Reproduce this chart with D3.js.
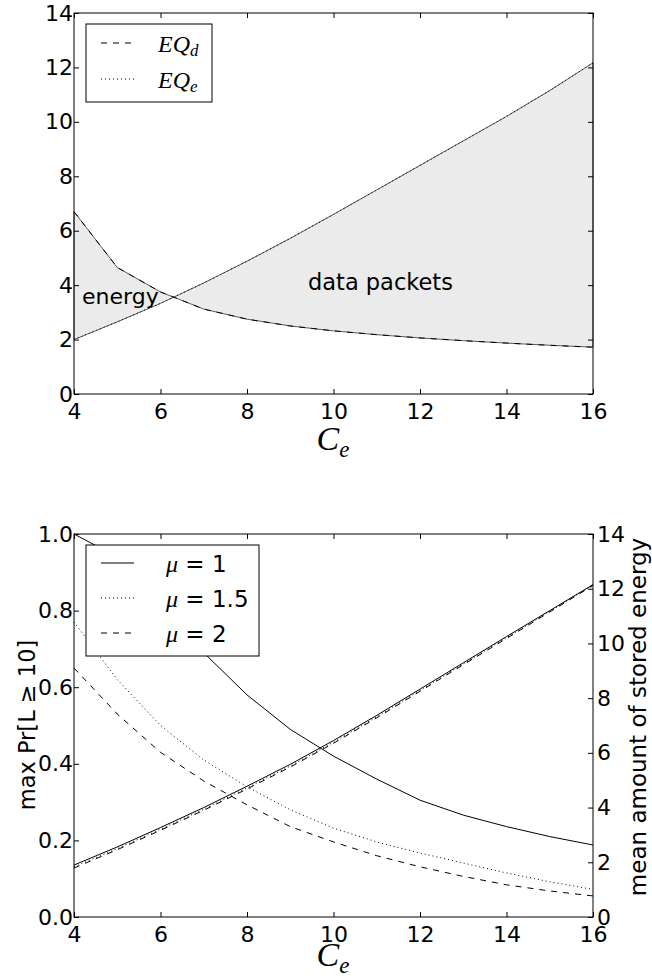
<!DOCTYPE html>
<html>
<head>
<meta charset="utf-8">
<script src="https://cdn.jsdelivr.net/npm/d3@7"></script>
<style>
  body { margin: 0; background: #fff; }
  text { font-family: "DejaVu Sans", sans-serif; fill: #000; }
  .math { font-family: "Liberation Serif", serif; font-style: italic; }
</style>
</head>
<body>
<div class="chart"></div>
<script>
// data
const ce = [4, 5, 6, 7, 8, 9, 10, 11, 12, 13, 14, 15, 16];
const eqD = [6.7, 4.65, 3.75, 3.12, 2.75, 2.5, 2.32, 2.18, 2.06, 1.96, 1.87, 1.79, 1.72];
const eqE = [2.0, 2.65, 3.33, 4.08, 4.88, 5.72, 6.6, 7.5, 8.4, 9.3, 10.2, 11.15, 12.17];

const prMu1 = [1.0, 0.94, 0.83, 0.69, 0.58, 0.49, 0.42, 0.36, 0.305, 0.266, 0.236, 0.21, 0.188];
const prMu15 = [0.77, 0.62, 0.5, 0.41, 0.34, 0.28, 0.232, 0.196, 0.167, 0.141, 0.115, 0.092, 0.072];
const prMu2 = [0.65, 0.53, 0.43, 0.355, 0.293, 0.236, 0.196, 0.16, 0.131, 0.106, 0.084, 0.068, 0.055];

const enMu1 = [1.9, 2.56, 3.27, 4.0, 4.78, 5.58, 6.45, 7.37, 8.33, 9.29, 10.25, 11.2, 12.15];
const enMu15 = [1.84, 2.5, 3.21, 3.94, 4.72, 5.52, 6.39, 7.32, 8.28, 9.25, 10.21, 11.17, 12.13];
const enMu2 = [1.79, 2.46, 3.17, 3.9, 4.68, 5.48, 6.35, 7.28, 8.25, 9.22, 10.18, 11.15, 12.12];

const xTicks = [4, 6, 8, 10, 12, 14, 16];
const eqTicks = [0, 2, 4, 6, 8, 10, 12, 14];
const prTicks = [0, 0.2, 0.4, 0.6, 0.8, 1.0];
const energyTicks = [0, 2, 4, 6, 8, 10, 12, 14];

const width = 652, height = 978;
const svg = d3.select(".chart").append("svg")
    .attr("width", width)
    .attr("height", height);

const left = 74, right = 593;
const top1 = 13, bottom1 = 394;
const top2 = 534, bottom2 = 917;

const xScale1 = d3.scaleLinear().domain([4, 16]).range([left, right]);
const yScale1 = d3.scaleLinear().domain([0, 14]).range([bottom1, top1]);
const xScale2 = d3.scaleLinear().domain([4, 16]).range([left, right]);
const yPr = d3.scaleLinear().domain([0, 1]).range([bottom2, top2]);
const yEn = d3.scaleLinear().domain([0, 14]).range([bottom2, top2]);

const dashes = {solid: null, dashed: "6,6", dotted: "1,3"};

function drawAxes(xs, ys, yFmt, ysRight, rightLabels) {
    const b = ys.range()[0], t = ys.range()[1];
    svg.append("g")
        .attr("transform", `translate(0,${b})`)
        .call(d3.axisBottom(xs).tickValues(xTicks).tickSize(-5).tickPadding(9))
        .call(g => g.select(".domain").remove());
    svg.append("g")
        .attr("transform", `translate(0,${t})`)
        .call(d3.axisTop(xs).tickValues(xTicks).tickSize(-5).tickFormat(""))
        .call(g => g.select(".domain").remove());
    svg.append("g")
        .attr("transform", `translate(${left},0)`)
        .call(d3.axisLeft(ys).tickValues(yFmt.ticks).tickSize(-5).tickPadding(1).tickFormat(yFmt.fmt))
        .call(g => g.select(".domain").remove());
    const ra = d3.axisRight(ysRight).tickValues(rightLabels.ticks).tickSize(-5).tickPadding(4);
    if (!rightLabels.show) ra.tickFormat("");
    svg.append("g")
        .attr("transform", `translate(${right},0)`)
        .call(ra)
        .call(g => g.select(".domain").remove());
    svg.selectAll(".tick text").attr("font-size", 22).attr("font-family", "DejaVu Sans");
    svg.selectAll(".tick line").attr("stroke", "#000");
    svg.append("rect")
        .attr("x", left).attr("y", t)
        .attr("width", right - left).attr("height", b - t)
        .attr("fill", "none").attr("stroke", "#000").attr("stroke-width", 1);
}

function addCeLabel(y) {
    const t = svg.append("text").attr("class", "math")
        .attr("x", 333).attr("y", y)
        .attr("text-anchor", "middle");
    t.append("tspan").attr("font-size", 34).text("C");
    t.append("tspan").attr("font-size", 23).attr("dy", 7).text("e");
}

// ---- top chart ----
const areaPts = ce.map((c, i) => [xScale1(c), yScale1(eqD[i])])
    .concat(ce.map((c, i) => [xScale1(c), yScale1(eqE[i])]).reverse());
svg.append("path")
    .attr("d", d3.line()(areaPts) + "Z")
    .attr("fill", "#ebebeb")
    .attr("stroke", "#333")
    .attr("stroke-width", 0.8);

const line1 = () => d3.line().x((d, i) => xScale1(ce[i])).y(d => yScale1(d));
svg.append("path").attr("d", line1()(eqD))
    .attr("fill", "none").attr("stroke", "#000").attr("stroke-width", 1)
    .attr("stroke-dasharray", dashes.dashed);
svg.append("path").attr("d", line1()(eqE))
    .attr("fill", "none").attr("stroke", "#000").attr("stroke-width", 1)
    .attr("stroke-dasharray", dashes.dotted);

svg.append("text").attr("x", 82).attr("y", 304).attr("font-size", 22).text("energy");
svg.append("text").attr("x", 308).attr("y", 290).attr("font-size", 22.5).text("data packets");

drawAxes(xScale1, yScale1, {ticks: eqTicks, fmt: d3.format("d")}, yScale1, {ticks: eqTicks, show: false});
addCeLabel(450);

// legend top
const legTop = svg.append("g");
legTop.append("rect").attr("x", 86).attr("y", 24).attr("width", 126).attr("height", 78)
    .attr("fill", "#fff").attr("stroke", "#000");
const topEntries = [{name: "d", dash: dashes.dashed, y: 43}, {name: "e", dash: dashes.dotted, y: 79}];
topEntries.forEach(e => {
    legTop.append("line").attr("x1", 101).attr("x2", 134).attr("y1", e.y).attr("y2", e.y)
        .attr("stroke", "#000").attr("stroke-dasharray", e.dash);
    const t = legTop.append("text").attr("class", "math").attr("x", 158).attr("y", e.y + 9);
    t.append("tspan").attr("font-size", 24).text("EQ");
    t.append("tspan").attr("font-size", 17).attr("dy", 4).text(e.name);
});

// ---- bottom chart ----
const line2 = ys => d3.line().x((d, i) => xScale2(ce[i])).y(d => ys(d));
const series = [
    {pr: prMu1, en: enMu1, dash: dashes.solid},
    {pr: prMu15, en: enMu15, dash: dashes.dotted},
    {pr: prMu2, en: enMu2, dash: dashes.dashed}
];
series.forEach(s => {
    svg.append("path").attr("d", line2(yPr)(s.pr))
        .attr("fill", "none").attr("stroke", "#000").attr("stroke-width", 1)
        .attr("stroke-dasharray", s.dash);
    svg.append("path").attr("d", line2(yEn)(s.en))
        .attr("fill", "none").attr("stroke", "#000").attr("stroke-width", 1)
        .attr("stroke-dasharray", s.dash);
});

drawAxes(xScale2, yPr, {ticks: prTicks, fmt: d3.format(".1f")}, yEn, {ticks: energyTicks, show: true});
addCeLabel(966);

svg.append("text")
    .attr("transform", `translate(35,725) rotate(-90)`)
    .attr("text-anchor", "middle")
    .attr("font-size", 22.5)
    .text("max Pr[L \u2265 10]");
svg.append("text")
    .attr("transform", `translate(646,717) rotate(-90)`)
    .attr("text-anchor", "middle")
    .attr("font-size", 23)
    .text("mean amount of stored energy");

// legend bottom
const legBot = svg.append("g");
legBot.append("rect").attr("x", 86).attr("y", 545).attr("width", 173).attr("height", 111)
    .attr("fill", "#fff").attr("stroke", "#000");
const muLabels = ["1", "1.5", "2"];
const legDash = [dashes.solid, dashes.dotted, dashes.dashed];
muLabels.forEach((m, i) => {
    const y = 563 + i * 35;
    legBot.append("line").attr("x1", 101).attr("x2", 134).attr("y1", y).attr("y2", y)
        .attr("stroke", "#000").attr("stroke-dasharray", legDash[i]);
    const t = legBot.append("text").attr("x", 166).attr("y", y + 9).attr("font-size", 23);
    t.append("tspan").attr("class", "math").attr("font-size", 24).text("\u03bc");
    t.append("tspan").text(" = " + m);
});
</script>
</body>
</html>
